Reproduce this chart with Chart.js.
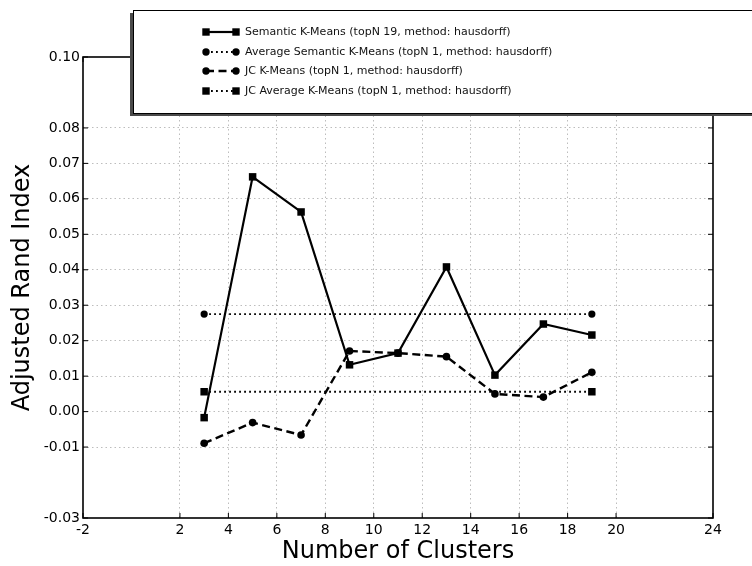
<!DOCTYPE html>
<html>
<head>
<meta charset="utf-8">
<script src="https://cdn.jsdelivr.net/npm/chart.js@4/dist/chart.umd.min.js"></script>
<style>
  body { margin: 0; background: #fff; }
  canvas { display: block; }
</style>
</head>
<body>
<canvas id="ariChart" width="752" height="566"></canvas>
<script>
// values
const clusters = [3, 5, 7, 9, 11, 13, 15, 17, 19];
const semanticKMeans = [-0.0017, 0.0662, 0.0563, 0.0132, 0.0165, 0.0408, 0.0103, 0.0247, 0.0216];
const jcKMeans = [-0.0089, -0.0031, -0.0066, 0.0171, 0.0165, 0.0155, 0.0050, 0.0041, 0.0111];
const avgClusters = [3, 19];
const avgSemantic = [0.0275, 0.0275];
const jcAverage = [0.0056, 0.0056];

const xTicks = [-2, 2, 4, 6, 8, 10, 12, 14, 16, 18, 20, 24];
const yTicks = [-0.03, -0.01, 0.00, 0.01, 0.02, 0.03, 0.04, 0.05, 0.06, 0.07, 0.08, 0.10];

const labels = [
    'Semantic K-Means (topN 19, method: hausdorff)',
    'Average Semantic K-Means (topN 1, method: hausdorff)',
    'JC K-Means (topN 1, method: hausdorff)',
    'JC Average K-Means (topN 1, method: hausdorff)'
];

const FONT = 'DejaVu Sans';
const toPoints = (xs, ys) => xs.map((x, i) => ({ x: x, y: ys[i] }));

const styles = [
    { dash: [], width: 2.2, marker: 'rect', radius: 5.3 },
    { dash: [1.8, 3.2], width: 1.8, marker: 'circle', radius: 3.6 },
    { dash: [8, 4.5], width: 2.4, marker: 'circle', radius: 3.8 },
    { dash: [1.8, 3.2], width: 1.8, marker: 'rect', radius: 5.3 }
];
const series = [
    toPoints(clusters, semanticKMeans),
    toPoints(avgClusters, avgSemantic),
    toPoints(clusters, jcKMeans),
    toPoints(avgClusters, jcAverage)
];

const datasets = series.map((pts, i) => ({
    label: labels[i],
    data: pts,
    borderColor: '#000',
    backgroundColor: '#000',
    borderWidth: styles[i].width,
    borderDash: styles[i].dash,
    pointStyle: styles[i].marker,
    pointRadius: styles[i].radius,
    pointBorderWidth: 0,
    pointBackgroundColor: '#000',
    tension: 0,
    fill: false
}));

const isEdge = (scale, v) => Math.abs(v - scale.min) < 1e-9 || Math.abs(v - scale.max) < 1e-9;

// frame with inward ticks, plus the shadowed legend box on top
const framePlugin = {
    id: 'frame',
    afterDatasetsDraw(chart) {
        const { ctx, chartArea: a, scales } = chart;
        ctx.save();
        ctx.strokeStyle = '#000';
        ctx.lineWidth = 1;
        scales.x.ticks.forEach(t => {
            const px = scales.x.getPixelForValue(t.value);
            ctx.beginPath();
            ctx.moveTo(px, a.bottom); ctx.lineTo(px, a.bottom - 5);
            ctx.moveTo(px, a.top); ctx.lineTo(px, a.top + 5);
            ctx.stroke();
        });
        scales.y.ticks.forEach(t => {
            const py = scales.y.getPixelForValue(t.value);
            ctx.beginPath();
            ctx.moveTo(a.left, py); ctx.lineTo(a.left + 5, py);
            ctx.moveTo(a.right, py); ctx.lineTo(a.right - 5, py);
            ctx.stroke();
        });
        ctx.lineWidth = 1.6;
        ctx.strokeRect(a.left, a.top, a.right - a.left, a.bottom - a.top);
        ctx.restore();
    },
    afterDraw(chart) {
        const ctx = chart.ctx;
        const box = { x: 133, y: 10, w: 640, h: 103 };
        ctx.save();
        ctx.fillStyle = '#4a4a4a';
        ctx.fillRect(box.x - 3, box.y + 3, box.w, box.h);
        ctx.fillStyle = '#fff';
        ctx.fillRect(box.x, box.y, box.w, box.h);
        ctx.strokeStyle = '#000';
        ctx.lineWidth = 1;
        ctx.strokeRect(box.x + 0.5, box.y + 0.5, box.w, box.h);

        const rows = [32, 52, 71, 91];
        const x0 = 206, x1 = 236;
        ctx.font = '11px "' + FONT + '"';
        ctx.textBaseline = 'middle';
        labels.forEach((txt, i) => {
            const s = styles[i];
            const y = rows[i];
            ctx.strokeStyle = '#000';
            ctx.lineWidth = s.width;
            ctx.setLineDash(s.dash);
            ctx.beginPath();
            ctx.moveTo(x0, y); ctx.lineTo(x1, y);
            ctx.stroke();
            ctx.setLineDash([]);
            ctx.fillStyle = '#000';
            [x0, x1].forEach(mx => {
                if (s.marker === 'rect') {
                    ctx.fillRect(mx - 3.7, y - 3.7, 7.4, 7.4);
                } else {
                    ctx.beginPath();
                    ctx.arc(mx, y, 3.7, 0, Math.PI * 2);
                    ctx.fill();
                }
            });
            ctx.fillStyle = '#111';
            ctx.fillText(txt, 245, y);
        });
        ctx.restore();
    }
};

const gridColor = (c) => isEdge(c.scale, c.tick.value) ? 'rgba(0,0,0,0)' : '#bdbdbd';

const ctx = document.getElementById('ariChart').getContext('2d');
new Chart(ctx, {
    type: 'line',
    data: { datasets: datasets },
    options: {
        responsive: false,
        animation: false,
        layout: { padding: { top: 57, right: 39, left: 0, bottom: 0 } },
        plugins: {
            legend: { display: false },
            tooltip: { enabled: false }
        },
        scales: {
            x: {
                type: 'linear',
                min: -2,
                max: 24,
                afterBuildTicks: (s) => { s.ticks = xTicks.map(v => ({ value: v })); },
                afterFit: (s) => { s.height = 48; },
                border: { display: false, dash: [1.5, 3] },
                grid: { drawTicks: false, color: gridColor, lineWidth: 1 },
                ticks: {
                    padding: 4,
                    color: '#000',
                    font: { family: FONT, size: 14 },
                    maxRotation: 0,
                    autoSkip: false,
                    callback: (v) => String(v)
                },
                title: {
                    display: true,
                    text: 'Number of Clusters',
                    color: '#000',
                    font: { family: FONT, size: 24 },
                    padding: { top: 0, bottom: 0 }
                }
            },
            y: {
                min: -0.03,
                max: 0.10,
                afterBuildTicks: (s) => { s.ticks = yTicks.map(v => ({ value: v })); },
                afterFit: (s) => { s.width = 83; },
                border: { display: false, dash: [1.5, 3] },
                grid: { drawTicks: false, color: gridColor, lineWidth: 1 },
                ticks: {
                    padding: 3,
                    color: '#000',
                    font: { family: FONT, size: 14 },
                    autoSkip: false,
                    callback: (v) => v.toFixed(2)
                },
                title: {
                    display: true,
                    text: 'Adjusted Rand Index',
                    color: '#000',
                    font: { family: FONT, size: 24 },
                    padding: { top: 8, bottom: 0 }
                }
            }
        }
    },
    plugins: [framePlugin]
});
</script>
</body>
</html>
